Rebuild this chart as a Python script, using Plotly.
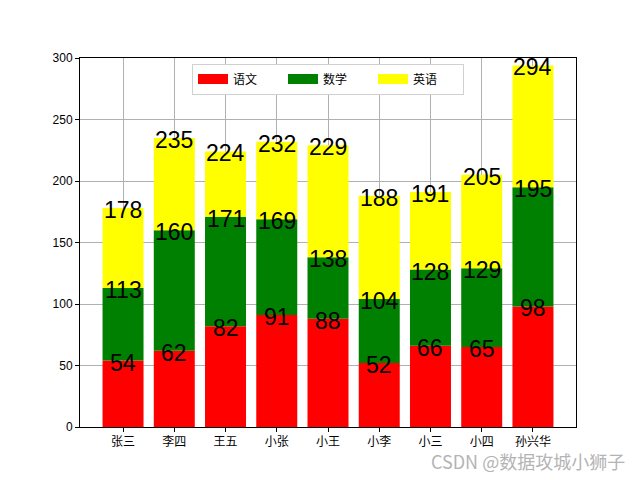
import plotly.graph_objects as go

names = ["张三", "李四", "王五", "小张", "小王", "小李", "小三", "小四", "孙兴华"]
chinese = [54, 62, 82, 91, 88, 52, 66, 65, 98]
math = [59, 98, 89, 78, 50, 52, 62, 64, 97]
english = [65, 75, 53, 63, 91, 84, 63, 76, 99]
series_names = ["语文", "数学", "英语"]
colors = ["red", "green", "yellow"]
yticks = [0, 50, 100, 150, 200, 250, 300]

FONT = "Liberation Sans, Arial, Noto Sans CJK SC, sans-serif"

x = list(range(len(names)))
series = [chinese, math, english]
fig = go.Figure()
base = [0] * len(names)
tops = []
for name, vals, col in zip(series_names, series, colors):
    fig.add_trace(go.Bar(x=x, y=vals, base=base[:], name=name, marker=dict(color=col, line=dict(width=0)),
                         width=0.8, showlegend=False))
    base = [b + v for b, v in zip(base, vals)]
    tops.append(base[:])

for name, col in zip(series_names, colors):
    fig.add_trace(go.Scatter(x=[None], y=[None], mode="lines", name=name,
                             line=dict(color=col, width=10)))

for t in tops:
    for xi, v in zip(x, t):
        fig.add_annotation(x=xi, y=v, xref="x", yref="y", text=str(v), showarrow=False,
                           xanchor="center", yanchor="middle", yshift=-2,
                           font=dict(size=23, color="black", family=FONT))

fig.add_annotation(text="CSDN @数据攻城小狮子", xref="paper", yref="paper",
                   x=(627 - 80) / 496, y=-(461 - 427.2) / 369.6, xanchor="right", yanchor="middle",
                   showarrow=False, font=dict(size=18, color="#b4b4b4", family="Noto Sans CJK SC, sans-serif"))

fig.update_layout(
    width=640, height=480,
    margin=dict(l=80, r=64, t=57.6, b=52.8),
    paper_bgcolor="white", plot_bgcolor="white",
    barmode="overlay",
    font=dict(family=FONT, size=12, color="black"),
    legend=dict(orientation="h", x=0.5, xanchor="center", y=0.985, yanchor="top",
                bordercolor="#d0d0d0", borderwidth=1, bgcolor="white",
                font=dict(size=12, family="Noto Sans CJK SC, sans-serif"),
                entrywidth=45, itemwidth=30),
    xaxis=dict(range=[-0.84, 8.84], tickmode="array", tickvals=x, ticktext=names,
               showgrid=True, gridcolor="#b0b0b0", gridwidth=1,
               showline=True, linecolor="black", linewidth=1, mirror=True,
               ticks="outside", ticklen=4, tickcolor="black",
               tickfont=dict(family="Noto Sans CJK SC, sans-serif", size=12),
               layer="above traces", zeroline=False),
    yaxis=dict(range=[0, 300], tickmode="array", tickvals=yticks,
               showgrid=True, gridcolor="#b0b0b0", gridwidth=1,
               showline=True, linecolor="black", linewidth=1, mirror=True,
               ticks="outside", ticklen=4, tickcolor="black",
               layer="above traces", zeroline=False),
)

fig.write_html("out.html")
